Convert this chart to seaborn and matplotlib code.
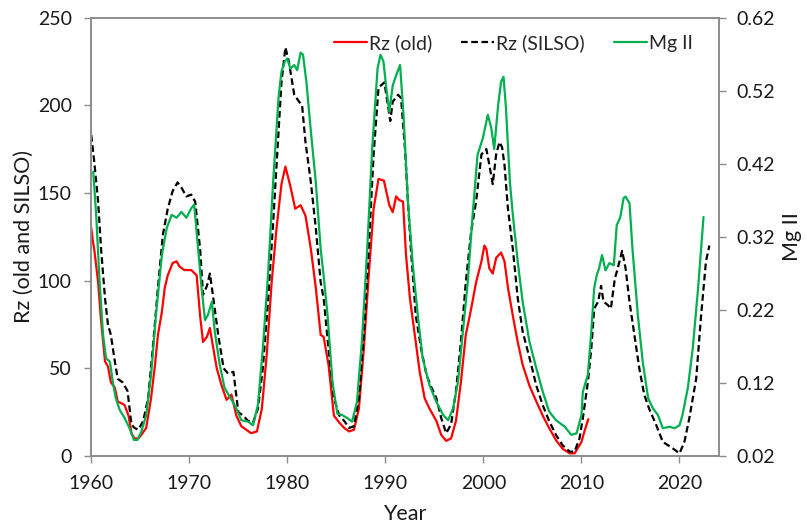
import numpy as np
import matplotlib
matplotlib.use("Agg")
import matplotlib.pyplot as plt
import seaborn as sns

# Rz (old) - monthly smoothed sunspot number, old series
old_year = [1960.0, 1960.15, 1960.3, 1960.7, 1961.0, 1961.4, 1961.7, 1962.0, 1962.4, 1962.7,
            1963.1, 1963.4, 1963.8, 1964.1, 1964.4, 1964.8, 1965.1, 1965.6, 1966.1, 1966.5,
            1966.8, 1967.2, 1967.5, 1967.8, 1968.3, 1968.7, 1969.0, 1969.5, 1970.2, 1970.75,
            1971.1, 1971.4, 1971.8, 1972.1, 1972.4, 1972.8, 1973.3, 1973.8, 1974.3, 1974.8,
            1975.3, 1975.8, 1976.3, 1976.9, 1977.4, 1977.9, 1978.4, 1978.9, 1979.4, 1979.8,
            1980.3, 1980.8, 1981.35, 1981.85, 1982.4, 1982.9, 1983.4, 1983.7, 1984.2, 1984.75,
            1985.3, 1985.8, 1986.3, 1986.8, 1987.3, 1987.8, 1988.3, 1988.8, 1989.3, 1989.85,
            1990.4, 1990.75, 1991.1, 1991.4, 1991.8, 1992.1, 1992.5, 1993.0, 1993.5, 1994.0,
            1994.5, 1995.2, 1995.7, 1996.2, 1996.7, 1997.2, 1997.7, 1998.2, 1998.75, 1999.25,
            1999.8, 2000.1, 2000.3, 2000.6, 2000.95, 2001.3, 2001.8, 2002.15, 2002.5, 2003.0,
            2003.5, 2004.0, 2004.7, 2005.4, 2006.05, 2006.7, 2007.4, 2008.1, 2008.8, 2009.3,
            2010.0, 2010.3, 2010.7]
old_rz = [130, 123, 118, 99, 77, 54, 51, 42, 39, 31,
          30, 29, 23, 13, 10, 10, 12, 16, 33, 52,
          69, 82, 96, 103, 110, 111, 108, 106, 106, 103,
          80, 65, 68, 73, 63, 50, 40, 32, 35, 23,
          17, 15, 13, 14, 27, 58, 99, 130, 155, 165,
          154, 141, 143, 137, 118, 96, 69, 68, 52, 23,
          19, 16, 14, 15, 27, 61, 103, 141, 158, 157,
          143, 139, 148, 146, 145, 115, 90, 69, 48, 33,
          27, 20, 12, 8.6, 10, 20, 42, 69, 84, 99,
          111, 120, 118, 107, 104, 113, 116, 111, 96, 80,
          65, 52, 40, 31, 23, 16, 9, 4, 1.5, 1.5,
          8, 14, 21]

# Rz (SILSO) - version 2 sunspot number
silso_year = [1960.0, 1960.3, 1960.7, 1961.0, 1961.4, 1961.7, 1962.0, 1962.4, 1962.7, 1963.2,
              1963.7, 1964.1, 1964.4, 1964.8, 1965.3, 1965.8, 1966.3, 1966.8, 1967.3, 1967.8,
              1968.3, 1968.8, 1969.2, 1969.7, 1970.2, 1970.6, 1971.1, 1971.4, 1971.8, 1972.1,
              1972.4, 1972.95, 1973.5, 1973.95, 1974.5, 1975.0, 1975.5, 1976.0, 1976.5, 1977.0,
              1977.5, 1978.05, 1978.55, 1979.1, 1979.4, 1979.8, 1980.15, 1980.7, 1981.2, 1981.5,
              1981.85, 1982.4, 1982.9, 1983.4, 1983.7, 1984.2, 1984.75, 1985.3, 1985.8, 1986.3,
              1986.8, 1987.3, 1987.8, 1988.3, 1988.8, 1989.3, 1989.9, 1990.25, 1990.5, 1990.75,
              1991.3, 1991.6, 1992.0, 1992.3, 1992.6, 1993.1, 1993.65, 1994.2, 1994.7, 1995.2,
              1995.7, 1996.2, 1996.7, 1997.2, 1997.7, 1998.2, 1998.75, 1999.25, 1999.8, 2000.3,
              2000.6, 2000.95, 2001.3, 2001.64, 2001.9, 2002.15, 2002.5, 2003.0, 2003.5, 2004.0,
              2004.7, 2005.4, 2006.05, 2006.7, 2007.4, 2008.1, 2008.8, 2009.3, 2009.8, 2010.14,
              2010.65, 2011.0, 2011.3, 2011.7, 2012.0, 2012.25, 2012.7, 2013.0, 2013.4, 2013.7,
              2014.15, 2014.5, 2014.9, 2015.4, 2015.9, 2016.4, 2016.9, 2017.6, 2018.3, 2019.15,
              2020.0, 2020.5, 2021.0, 2021.7, 2022.2, 2022.7, 2023.05]
silso_rz = [183, 168, 145, 118, 90, 75, 69, 54, 44, 42,
            37, 18, 16, 15, 20, 33, 63, 96, 126, 141,
            151, 156, 153, 148, 149, 145, 118, 92, 97, 104,
            92, 69, 50, 47, 48, 25, 23, 20, 19, 27,
            50, 90, 133, 185, 213, 233, 225, 206, 202, 200,
            179, 156, 130, 99, 90, 61, 33, 23, 20, 16,
            17, 33, 69, 118, 172, 210, 213, 200, 191, 202,
            206, 204, 175, 145, 118, 80, 61, 46, 39, 33,
            21.5, 13, 18, 37, 65, 99, 128, 145, 172, 175,
            166, 155, 172, 179, 176, 166, 141, 118, 90, 71,
            56, 40, 29, 20, 12, 6, 2.5, 2.5, 10, 21.5,
            42, 61, 84, 88, 97, 88, 86, 84, 101, 107,
            117, 107, 88, 69, 50, 35, 27, 18, 8, 5,
            1.5, 8, 21.5, 44, 80, 111, 120]

# Mg II index (right axis)
mg_year = [1960.2, 1960.5, 1960.85, 1961.2, 1961.5, 1961.9, 1962.2, 1962.5, 1962.9, 1963.4,
           1963.9, 1964.35, 1964.7, 1965.1, 1965.6, 1966.1, 1966.6, 1967.2, 1967.7, 1968.2,
           1968.7, 1969.2, 1969.7, 1970.2, 1970.5, 1970.9, 1971.25, 1971.6, 1971.9, 1972.3,
           1972.6, 1973.1, 1973.6, 1974.3, 1974.8, 1975.3, 1976.0, 1976.5, 1977.0, 1977.5,
           1978.05, 1978.55, 1979.1, 1979.4, 1979.75, 1980.0, 1980.3, 1980.7, 1981.0, 1981.35,
           1981.6, 1981.95, 1982.4, 1982.9, 1983.4, 1983.7, 1984.1, 1984.6, 1985.1, 1985.6,
           1986.1, 1986.6, 1987.1, 1987.6, 1988.15, 1988.65, 1989.2, 1989.5, 1989.8, 1990.1,
           1990.4, 1990.75, 1991.1, 1991.5, 1991.85, 1992.3, 1992.8, 1993.3, 1993.8, 1994.5,
           1995.2, 1995.9, 1996.4, 1996.9, 1997.4, 1997.9, 1998.4, 1998.9, 1999.4, 1999.94,
           2000.45, 2000.8, 2001.1, 2001.5, 2001.8, 2002.05, 2002.3, 2002.7, 2003.0, 2003.5,
           2004.0, 2004.7, 2005.4, 2006.05, 2006.7, 2007.4, 2008.3, 2008.95, 2009.5, 2010.0,
           2010.14, 2010.65, 2011.0, 2011.3, 2011.55, 2011.8, 2012.1, 2012.45, 2012.85, 2013.3,
           2013.6, 2013.95, 2014.3, 2014.5, 2014.9, 2015.2, 2015.75, 2016.25, 2016.8, 2017.3,
           2017.8, 2018.3, 2019.0, 2019.5, 2020.0, 2020.3, 2020.85, 2021.35, 2021.9, 2022.2,
           2022.45]
mg_index = [0.409, 0.350, 0.258, 0.186, 0.154, 0.149, 0.121, 0.099, 0.083, 0.072,
            0.058, 0.042, 0.042, 0.053, 0.076, 0.131, 0.213, 0.295, 0.332, 0.350,
            0.346, 0.354, 0.346, 0.359, 0.364, 0.304, 0.250, 0.206, 0.213, 0.231,
            0.190, 0.145, 0.113, 0.097, 0.085, 0.069, 0.067, 0.062, 0.090, 0.167,
            0.272, 0.395, 0.510, 0.546, 0.560, 0.564, 0.550, 0.555, 0.548, 0.572,
            0.569, 0.531, 0.464, 0.395, 0.303, 0.267, 0.213, 0.121, 0.078, 0.076,
            0.072, 0.067, 0.094, 0.176, 0.304, 0.440, 0.550, 0.569, 0.560, 0.523,
            0.491, 0.527, 0.541, 0.555, 0.486, 0.368, 0.281, 0.213, 0.154, 0.117,
            0.094, 0.076, 0.069, 0.085, 0.121, 0.190, 0.258, 0.350, 0.432, 0.455,
            0.487, 0.469, 0.440, 0.500, 0.532, 0.539, 0.496, 0.395, 0.350, 0.286,
            0.231, 0.176, 0.140, 0.108, 0.081, 0.069, 0.060, 0.049, 0.051, 0.076,
            0.108, 0.131, 0.190, 0.250, 0.267, 0.277, 0.295, 0.274, 0.284, 0.281,
            0.336, 0.346, 0.373, 0.375, 0.366, 0.304, 0.213, 0.149, 0.099, 0.085,
            0.076, 0.058, 0.060, 0.058, 0.062, 0.076, 0.113, 0.167, 0.250, 0.304,
            0.347]

year_ticks = [1960, 1970, 1980, 1990, 2000, 2010, 2020]
rz_ticks = [0, 50, 100, 150, 200, 250]
mg_ticks = [0.02, 0.12, 0.22, 0.32, 0.42, 0.52, 0.62]

sns.set_style("ticks")
plt.rcParams['font.family'] = ['Lato', 'DejaVu Sans']

grey = '#8c8c8c'
txt = '#1a1a1a'
fig = plt.figure(figsize=(8.07, 5.26), dpi=100)
ax = fig.add_axes([0.1131, 0.1331, 0.7775, 0.8336])
ax2 = ax.twinx()

sns.lineplot(x=old_year, y=old_rz, ax=ax, color='#ff0000', linewidth=1.6,
             label='Rz (old)', sort=False)
sns.lineplot(x=silso_year, y=silso_rz, ax=ax, color='black', linewidth=1.6,
             linestyle=(0, (3, 1.6)), label='Rz (SILSO)', sort=False)
sns.lineplot(x=mg_year, y=mg_index, ax=ax2, color='#00b050', linewidth=1.6,
             label='Mg II', sort=False)

ax.set_xlim(1960, 2024)
ax.set_ylim(0, 250)
ax2.set_ylim(0.02, 0.62)
ax.set_xticks(year_ticks)
ax.set_yticks(rz_ticks)
ax2.set_yticks(mg_ticks)
ax2.set_yticklabels([f"{v:.2f}" for v in mg_ticks])

ax.set_xlabel("Year", fontsize=15.5, color=txt)
ax.set_ylabel("Rz (old and SILSO)", fontsize=15.5, color=txt)
ax2.set_ylabel("Mg II", fontsize=15.5, color=txt)
ax.xaxis.label.set_va('center')
ax.xaxis.set_label_coords(0.5, -0.132)
ax.yaxis.label.set_va('center')
ax.yaxis.set_label_coords(-0.107, 0.5)
ax2.yaxis.label.set_va('center')
ax2.yaxis.set_label_coords(1.117, 0.5)

for a in (ax, ax2):
    a.tick_params(labelsize=14, colors=txt, length=5, width=1, color=grey)
    for s in a.spines.values():
        s.set_visible(True)
        s.set_color(grey)
        s.set_linewidth(1.2)
ax.tick_params(axis='x', pad=9)
ax.tick_params(axis='y', pad=9)
ax2.tick_params(axis='y', pad=8)

h1, l1 = ax.get_legend_handles_labels()
h2, l2 = ax2.get_legend_handles_labels()
ax.get_legend().remove()
ax2.get_legend().remove()
fig.legend(h1 + h2, l1 + l2, loc='center', bbox_to_anchor=(0.636, 0.918), ncol=3,
           frameon=False, fontsize=14, handlelength=1.7, handletextpad=0.1,
           columnspacing=1.5)

fig.savefig("out.png", dpi=100)
